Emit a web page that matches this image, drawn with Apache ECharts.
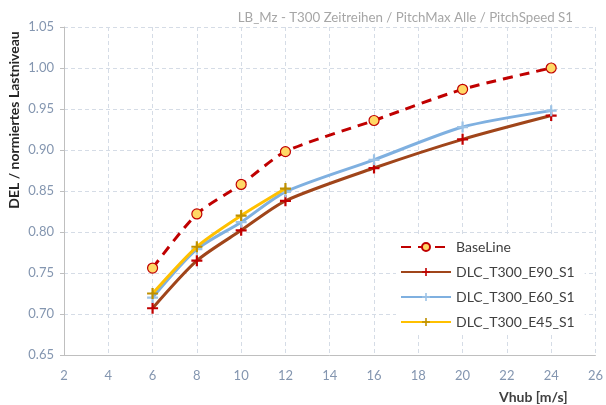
<!DOCTYPE html>
<html><head><meta charset="utf-8">
<script src="https://cdn.jsdelivr.net/npm/echarts@6/dist/echarts.min.js"></script>
<style>html,body{margin:0;padding:0;background:#fff}#c{width:606px;height:405px}</style>
</head><body><div id="c"></div>
<script>
const vhub = [6, 8, 10, 12, 16, 20, 24];
const vhubE45 = [6, 8, 10, 12];
const baseLine = [0.756, 0.822, 0.858, 0.898, 0.936, 0.974, 1.000];
const e90 = [0.707, 0.765, 0.802, 0.838, 0.878, 0.913, 0.942];
const e60 = [0.720, 0.779, 0.812, 0.849, 0.888, 0.928, 0.948];
const e45 = [0.725, 0.782, 0.820, 0.853];
const seriesNames = ['BaseLine', 'DLC_T300_E90_S1', 'DLC_T300_E60_S1', 'DLC_T300_E45_S1'];

const FONT = 'Lato';
const plus = 'path://M4,0 L6,0 L6,4 L10,4 L10,6 L6,6 L6,10 L4,10 L4,6 L0,6 L0,4 L4,4 Z';
const pairs = (xs, ys) => xs.map((x, i) => [x, ys[i]]);

const chart = echarts.init(document.getElementById('c'));
chart.setOption({
  animation: false,
  textStyle: { fontFamily: FONT },
  title: [
    { text: 'LB_Mz - T300 Zeitreihen / PitchMax Alle / PitchSpeed S1', right: 28, top: 6,
      textStyle: { fontSize: 13.3, fontWeight: 'normal', color: '#a6a6a6', fontFamily: FONT } },
    { text: 'Vhub [m/s]', left: 494, top: 385,
      textStyle: { fontSize: 14, fontWeight: 'bold', color: '#404040', fontFamily: FONT } }
  ],
  graphic: [
    { type: 'text', x: 14, y: 120, rotation: Math.PI / 2,
      style: { text: 'DEL / normiertes Lastniveau', font: 'bold 14px Lato', fill: '#262626',
               align: 'center', verticalAlign: 'middle' } }
  ],
  grid: { left: 64, right: 9, top: 27, bottom: 50 },
  legend: {
    orient: 'vertical', left: 396, top: 234, itemGap: 11,
    itemWidth: 50, itemHeight: 10,
    backgroundColor: '#fff', padding: [6, 10, 6, 4],
    textStyle: { fontSize: 14, lineHeight: 14, color: '#404040', fontFamily: FONT },
    data: seriesNames
  },
  xAxis: {
    type: 'value', min: 2, max: 26, interval: 2,
    axisLine: { show: true, lineStyle: { color: '#bfbfbf', width: 1 } },
    axisTick: { show: false },
    axisLabel: { color: '#8496b0', fontSize: 13, margin: 14, fontFamily: FONT },
    splitLine: { show: true, lineStyle: { color: '#d5dce6', type: [4, 3] } }
  },
  yAxis: {
    type: 'value', min: 0.65, max: 1.05, interval: 0.05,
    axisLine: { show: true, lineStyle: { color: '#bfbfbf', width: 1 } },
    axisTick: { show: true, length: 4, lineStyle: { color: '#bfbfbf' } },
    axisLabel: { color: '#8496b0', fontSize: 13, margin: 10, fontFamily: FONT, formatter: v => v.toFixed(2) },
    splitLine: { show: true, lineStyle: { color: '#d5dce6', type: [4, 3] } }
  },
  series: [
    { name: seriesNames[0], type: 'line', data: pairs(vhub, baseLine), smooth: 0.25,
      symbol: 'circle', symbolSize: 10,
      lineStyle: { color: '#c00000', width: 3, type: [10, 7] },
      itemStyle: { color: '#ffd966', borderColor: '#c00000', borderWidth: 1.2 }, z: 5 },
    { name: seriesNames[1], type: 'line', data: pairs(vhub, e90), smooth: 0.25,
      symbol: plus, symbolSize: 11,
      lineStyle: { color: '#a0451a', width: 3 },
      itemStyle: { color: '#c00000', borderWidth: 0 }, z: 2 },
    { name: seriesNames[2], type: 'line', data: pairs(vhub, e60), smooth: 0.25,
      symbol: plus, symbolSize: 11,
      lineStyle: { color: '#7fb0e0', width: 3 },
      itemStyle: { color: '#9dc3e6', borderWidth: 0 }, z: 3 },
    { name: seriesNames[3], type: 'line', data: pairs(vhubE45, e45), smooth: 0.25,
      symbol: plus, symbolSize: 11,
      lineStyle: { color: '#ffc000', width: 3 },
      itemStyle: { color: '#bf9000', borderWidth: 0 }, z: 4 }
  ]
});
</script></body></html>
